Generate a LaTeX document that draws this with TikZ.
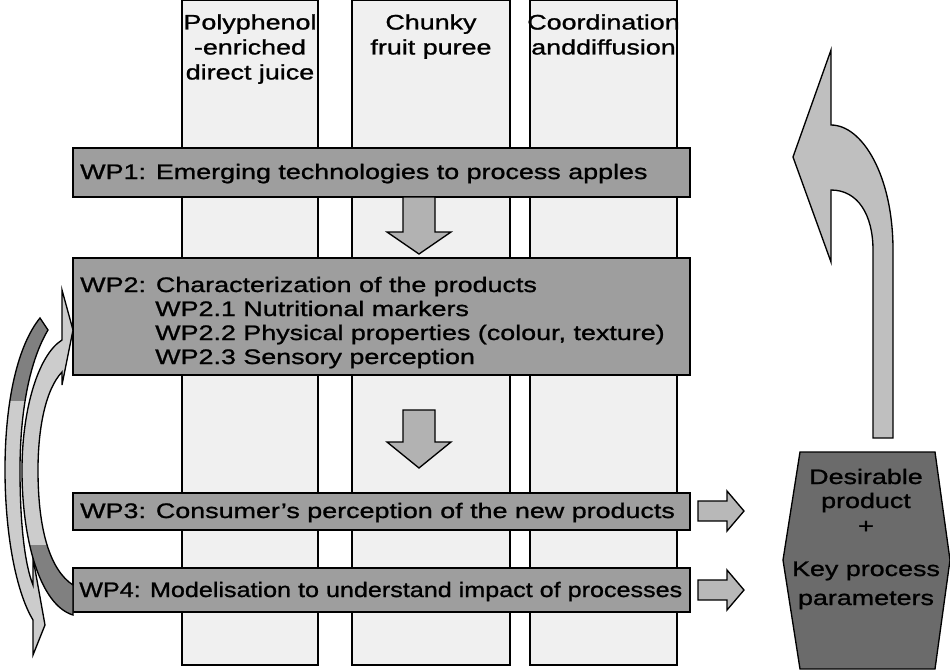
\documentclass[tikz,border=0pt]{standalone}
\usepackage{fontspec}
\setmainfont[FakeStretch=1.28, FakeBold=1.1]{Liberation Sans}
\begin{document}
\begin{tikzpicture}[x=0.75pt,y=-0.75pt,
  colbox/.style={draw=black, line width=0.9pt, fill=black!6},
  barbox/.style={draw=black, line width=1pt, fill=black!38},
  blockarrow/.style={draw=black, line width=1pt, fill=black!30, line join=miter},
  ribbon/.style={draw=black, line width=1pt, fill=black!22},
  hdr/.style={align=center, inner sep=0pt, font=\fontsize{15.75pt}{18.75pt}\selectfont},
  wptext/.style={anchor=base west, inner sep=0pt, font=\fontsize{15.75pt}{18pt}\selectfont},
  hextext/.style={anchor=base, inner sep=0pt, font=\fontsize{15.75pt}{18.75pt}\selectfont}]
\useasboundingbox (0,0) rectangle (950,669);
% columns
\draw[colbox] (182,0) rectangle (318,665);
\draw[colbox] (352,0) rectangle (510,665);
\draw[colbox] (530,0) rectangle (677,665);
\node[hdr, anchor=north] (h1) at (250,14) {Polyphenol\\-enriched\\direct juice};
\node[hdr, anchor=north] (h2) at (431,14) {Chunky\\fruit puree};
\node[hdr, anchor=north] (h3) at (603.5,14) {Coordination\\anddiffusion};
% bars
\draw[barbox] (73,148) rectangle (690,197);
\draw[barbox] (73,258) rectangle (690,375);
\draw[barbox] (73,493) rectangle (690,530);
\draw[barbox] (73,568) rectangle (690,612);
\node[wptext] (wp1) at (80,179) {WP1: Emerging technologies to process apples};
\node[wptext] (wp2) at (80,292) {WP2: Characterization of the products};
\node[wptext] (wp21) at (155,316) {WP2.1 Nutritional markers};
\node[wptext] (wp22) at (155,340) {WP2.2 Physical properties (colour, texture)};
\node[wptext] (wp23) at (155,364) {WP2.3 Sensory perception};
\node[wptext] (wp3) at (80,518) {WP3: Consumer's perception of the new products};
\node[wptext] (wp4) at (79,597) {\scalebox{0.935}[1]{WP4: Modelisation to understand impact of processes}};
% down arrows
\draw[blockarrow] (403,197) -- (403,232) -- (387,232) -- (419,254) -- (451,232) -- (435,232) -- (435,197) -- cycle;
\draw[blockarrow] (403,410) -- (403,442) -- (387,442) -- (419,468) -- (451,442) -- (435,442) -- (435,410) -- cycle;
% small right arrows
\draw[blockarrow, fill=black!28] (698,501) -- (727,501) -- (727,491) -- (744,511) -- (727,531) -- (727,521) -- (698,521) -- cycle;
\draw[blockarrow, fill=black!28] (698,580) -- (727,580) -- (727,570) -- (744,590) -- (727,610) -- (727,600) -- (698,600) -- cycle;
% hexagon
\draw[draw=black, line width=1pt, fill=black!58] (800,452) -- (935,452) -- (950,560) -- (935,669) -- (800,669) -- (783,560) -- cycle;
\node[hextext] (res1) at (866,484) {Desirable};
\node[hextext] (res2) at (866,508) {product};
\node[hextext] (res3) at (866,533) {+};
\node[hextext] (res4) at (866,576) {Key process};
\node[hextext] (res5) at (866,605) {parameters};
% big up arrow
\draw[ribbon, fill=black!25] (831,50) -- (793,157) -- (831,262) -- (831,190) .. controls (858,190) and (873,215) .. (873,250) -- (873,438) -- (893,438) -- (893,250) .. controls (893,175) and (862,125) .. (831,125) -- cycle;
% left curved arrow X (WP2 -> down)
\def\pathXr{(40,318) -- (48,330) .. controls (30,360) and (20,410) .. (20,470) .. controls (20,525) and (25,565) .. (33,585) -- (33,558) -- (45,625) -- (33,655) -- (33,620) .. controls (15,590) and (5,530) .. (5,470) .. controls (5,400) and (18,345) .. (40,318) -- cycle}
\fill[black!20] \pathXr;
\begin{scope}
\clip (0,300) rectangle (60,400);
\fill[black!50] \pathXr;
\end{scope}
\draw[line width=1pt, line join=miter] \pathXr;
% left curved arrow Y (WP4 -> WP2)
\def\pathYr{(62,290) -- (73,330) -- (62,385) -- (62,372) .. controls (45,390) and (38,430) .. (38,470) .. controls (38,530) and (50,570) .. (73,585) -- (73,615) .. controls (40,605) and (22,540) .. (22,470) .. controls (22,410) and (38,355) .. (62,340) -- cycle}
\fill[black!20] \pathYr;
\begin{scope}
\clip (0,545) rectangle (80,640);
\fill[black!50] \pathYr;
\end{scope}
\draw[line width=1pt, line join=miter] \pathYr;
\end{tikzpicture}
\end{document}
